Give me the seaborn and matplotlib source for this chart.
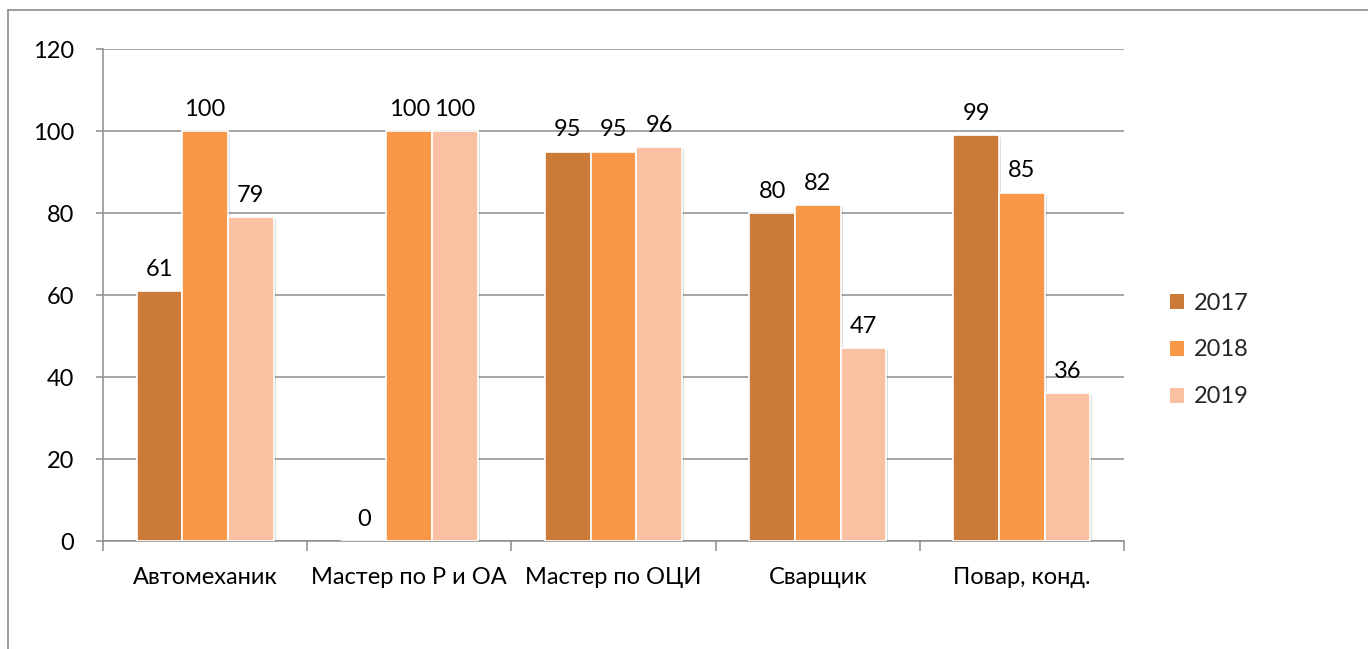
import matplotlib
matplotlib.use("Agg")
import matplotlib.pyplot as plt
import matplotlib.patheffects as pe
import seaborn as sns
import pandas as pd
from matplotlib.patches import Patch
from matplotlib.lines import Line2D
from matplotlib.ticker import FixedLocator

categories = ["Автомеханик", "Мастер по Р и ОА", "Мастер по ОЦИ", "Сварщик", "Повар, конд."]
years = ["2017", "2018", "2019"]
v2017 = [61, 0, 95, 80, 99]
v2018 = [100, 100, 95, 82, 85]
v2019 = [79, 100, 96, 47, 36]
colors = ["#CB7A37", "#F79747", "#F9C1A2"]

rows = []
for y, vals in zip(years, [v2017, v2018, v2019]):
    for c, v in zip(categories, vals):
        rows.append({"cat": c, "year": y, "val": v})
df = pd.DataFrame(rows)

sns.set_theme(style="white")
plt.rcParams['font.family'] = ['Lato', 'DejaVu Sans']
FS = 17

W, H = 1368, 649
fig = plt.figure(figsize=(W / 100, H / 100), dpi=100)
ax = fig.add_axes([103 / W, 1 - 541 / H, (1124 - 103) / W, (541 - 49) / H])

sns.barplot(data=df, x="cat", y="val", hue="year", palette=colors, width=0.67,
            edgecolor="white", linewidth=1.2, saturation=1, ax=ax, legend=False, zorder=3)

for cont in ax.containers:
    for bar in cont:
        bar.set_path_effects([pe.SimplePatchShadow(offset=(1.5, -1.5), shadow_rgbFace="#000000", alpha=0.12),
                              pe.Normal()])

ax.set_ylim(0, 120)
ax.set_xlim(-0.5, len(categories) - 0.5)
ax.set_yticks(range(0, 121, 20))
ax.yaxis.grid(True, color="#8C8C8C", linewidth=1.1, zorder=0)
ax.set_axisbelow(True)
ax.set_xlabel("")
ax.set_ylabel("")
for s in ["top", "right"]:
    ax.spines[s].set_visible(False)
for s in ["left", "bottom"]:
    ax.spines[s].set_color("#8C8C8C")
    ax.spines[s].set_linewidth(1.1)

ax.tick_params(axis="y", which="major", length=5, width=1.1, color="#8C8C8C",
               direction="out", pad=16, labelsize=FS, labelcolor="black", left=True)
ax.tick_params(axis="x", which="major", length=0, pad=19, labelsize=FS, labelcolor="black")
ax.xaxis.set_minor_locator(FixedLocator([i - 0.5 for i in range(len(categories) + 1)]))
ax.tick_params(axis="x", which="minor", length=7, width=1.1, color="#8C8C8C", direction="out", bottom=True)

for cont in ax.containers:
    for bar in cont:
        h = bar.get_height()
        ax.annotate(f"{int(h)}", (bar.get_x() + bar.get_width() / 2, h),
                    xytext=(0, 8), textcoords="offset points", ha="center", va="bottom",
                    fontsize=FS, color="black")

handles = [Patch(facecolor=c, edgecolor="none") for c in colors]
fig.legend(handles, years, loc="center left", bbox_to_anchor=(1149 / W, 1 - 350 / H),
           frameon=False, fontsize=FS, handlelength=0.6, handleheight=0.6,
           handletextpad=0.4, labelspacing=1.1)

# outer border (left & top visible)
fig.add_artist(Line2D([8 / W, 8 / W], [0, 1 - 10 / H], transform=fig.transFigure,
                      color="#8C8C8C", linewidth=1.2))
fig.add_artist(Line2D([8 / W, 1], [1 - 10 / H, 1 - 10 / H], transform=fig.transFigure,
                      color="#8C8C8C", linewidth=1.2))

fig.savefig("out.png", dpi=100, facecolor="white")
